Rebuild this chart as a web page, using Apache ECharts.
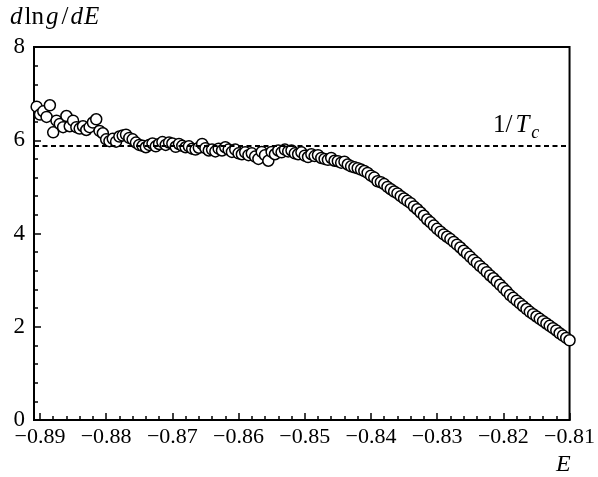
<!DOCTYPE html>
<html><head><meta charset="utf-8">
<script src="https://cdn.jsdelivr.net/npm/echarts@6/dist/echarts.min.js"></script>
<style>html,body{margin:0;padding:0;background:#fff}#c{width:598px;height:477px}</style>
</head><body><div id="c"></div>
<script>
const E = [-0.8905,-0.8900,-0.8895,-0.8890,-0.8885,-0.8880,-0.8875,-0.8870,-0.8865,-0.8860,
-0.8855,-0.8850,-0.8845,-0.8840,-0.8835,-0.8830,-0.8825,-0.8820,-0.8815,-0.8810,
-0.8805,-0.8800,-0.8795,-0.8790,-0.8785,-0.8780,-0.8775,-0.8770,-0.8765,-0.8760,
-0.8755,-0.8750,-0.8745,-0.8740,-0.8735,-0.8730,-0.8725,-0.8720,-0.8715,-0.8710,
-0.8705,-0.8700,-0.8695,-0.8690,-0.8685,-0.8680,-0.8675,-0.8670,-0.8665,-0.8660,
-0.8655,-0.8650,-0.8645,-0.8640,-0.8635,-0.8630,-0.8625,-0.8620,-0.8615,-0.8610,
-0.8605,-0.8600,-0.8595,-0.8590,-0.8585,-0.8580,-0.8575,-0.8570,-0.8565,-0.8560,
-0.8555,-0.8550,-0.8545,-0.8540,-0.8535,-0.8530,-0.8525,-0.8520,-0.8515,-0.8510,
-0.8505,-0.8500,-0.8495,-0.8490,-0.8485,-0.8480,-0.8475,-0.8470,-0.8465,-0.8460,
-0.8455,-0.8450,-0.8445,-0.8440,-0.8435,-0.8430,-0.8425,-0.8420,-0.8415,-0.8410,
-0.8405,-0.8400,-0.8395,-0.8390,-0.8385,-0.8380,-0.8375,-0.8370,-0.8365,-0.8360,
-0.8355,-0.8350,-0.8345,-0.8340,-0.8335,-0.8330,-0.8325,-0.8320,-0.8315,-0.8310,
-0.8305,-0.8300,-0.8295,-0.8290,-0.8285,-0.8280,-0.8275,-0.8270,-0.8265,-0.8260,
-0.8255,-0.8250,-0.8245,-0.8240,-0.8235,-0.8230,-0.8225,-0.8220,-0.8215,-0.8210,
-0.8205,-0.8200,-0.8195,-0.8190,-0.8185,-0.8180,-0.8175,-0.8170,-0.8165,-0.8160,
-0.8155,-0.8150,-0.8145,-0.8140,-0.8135,-0.8130,-0.8125,-0.8120,-0.8115,-0.8110,
-0.8105,-0.8100];
const dlngdE = [6.72,6.55,6.62,6.50,6.75,6.17,6.42,6.35,6.28,6.52,
6.30,6.42,6.28,6.25,6.30,6.22,6.28,6.38,6.45,6.20,
6.15,6.02,5.98,6.03,5.97,6.08,6.10,6.12,6.05,6.02,
5.95,5.90,5.88,5.85,5.90,5.93,5.87,5.92,5.96,5.90,
5.95,5.93,5.86,5.92,5.88,5.85,5.87,5.82,5.80,5.84,
5.92,5.83,5.78,5.80,5.76,5.82,5.78,5.85,5.80,5.75,
5.80,5.72,5.70,5.74,5.68,5.72,5.65,5.60,5.75,5.68,
5.56,5.75,5.70,5.78,5.74,5.80,5.76,5.78,5.72,5.70,
5.74,5.67,5.64,5.70,5.66,5.68,5.62,5.60,5.58,5.62,
5.56,5.55,5.52,5.54,5.48,5.44,5.42,5.40,5.37,5.34,
5.30,5.24,5.20,5.12,5.10,5.06,5.00,4.95,4.90,4.86,
4.80,4.75,4.70,4.65,4.58,4.52,4.45,4.38,4.30,4.24,
4.17,4.10,4.04,3.98,3.93,3.88,3.82,3.76,3.70,3.63,
3.57,3.50,3.43,3.37,3.30,3.24,3.17,3.10,3.04,2.97,
2.90,2.83,2.76,2.68,2.62,2.56,2.50,2.44,2.38,2.32,
2.27,2.22,2.17,2.12,2.07,2.02,1.97,1.92,1.86,1.81,
1.76,1.71];
const invTc = 5.89;
const xMajorTicks = [-0.89,-0.88,-0.87,-0.86,-0.85,-0.84,-0.83,-0.82,-0.81];
const xMinorTicks = [-0.888,-0.886,-0.884,-0.882,-0.878,-0.876,-0.874,-0.872,-0.868,-0.866,-0.864,-0.862,
-0.858,-0.856,-0.854,-0.852,-0.848,-0.846,-0.844,-0.842,-0.838,-0.836,-0.834,-0.832,
-0.828,-0.826,-0.824,-0.822,-0.818,-0.816,-0.814,-0.812];
const xMin = -0.8909, xMax = -0.81;

const serif = 'Liberation Serif';
const pts = E.map((e,i)=>[e, dlngdE[i]]);
const chart = echarts.init(document.getElementById('c'), null, {renderer:'canvas'});
const it = (s, pad) => ({fontFamily:serif,fontStyle:'italic',fontSize:s,fill:'#000',padding:pad||[0,0,0,0]});
const rm = (s, pad) => ({fontFamily:serif,fontSize:s,fill:'#000',padding:pad||[0,0,0,0]});
chart.setOption({
  animation:false,
  backgroundColor:'#fff',
  grid:{left:34,right:24.5,top:47,bottom:57,show:true,borderColor:'#000',borderWidth:2,containLabel:false},
  xAxis:[{
    type:'value',min:xMin,max:xMax,
    axisLine:{onZero:false,lineStyle:{color:'#000',width:2}},
    axisTick:{inside:true,length:7,lineStyle:{color:'#000',width:1.5},customValues:xMajorTicks},
    axisLabel:{customValues:xMajorTicks,color:'#000',fontFamily:serif,fontSize:22,margin:6,
      formatter:v=>(Math.round(v*100)/100).toFixed(2).replace('-','\u2212')},
    splitLine:{show:false}
  },{
    type:'value',min:xMin,max:xMax,position:'bottom',
    axisLine:{show:false},
    axisTick:{inside:true,length:4,lineStyle:{color:'#000',width:1.5},customValues:xMinorTicks},
    axisLabel:{show:false},splitLine:{show:false}
  }],
  yAxis:{
    type:'value',min:0,max:8,interval:2,
    axisLine:{onZero:false,lineStyle:{color:'#000',width:2}},
    axisTick:{inside:true,length:7,lineStyle:{color:'#000',width:1.5}},
    minorTick:{show:true,splitNumber:5,length:4,lineStyle:{color:'#000',width:1.5}},
    axisLabel:{color:'#000',fontFamily:serif,fontSize:23,margin:9},
    splitLine:{show:false}
  },
  series:[{
    type:'scatter',xAxisIndex:0,data:pts,symbol:'circle',symbolSize:11,
    itemStyle:{color:'#fff',borderColor:'#000',borderWidth:1.5,opacity:1},
    markLine:{silent:true,symbol:'none',label:{show:false},
      lineStyle:{color:'#000',type:[5,3.5],width:1.8},
      data:[{yAxis:invTc}]},
    z:3
  }],
  graphic:[
    {type:'text',left:10,top:5,style:{
      text:'{a|d}{b|ln}{c|g}{d|/}{e|d}{f|E}',
      rich:{a:it(25,[0,2,0,0]),b:rm(25,[0,2,0,0]),c:it(25,[0,3,0,0]),d:rm(25,[0,2,0,0]),e:it(25,[0,1,0,0]),f:it(25)}}},
    {type:'text',left:556,top:453,style:{text:'E',fontFamily:serif,fontStyle:'italic',fontSize:24,fill:'#000'}},
    {type:'text',left:493,top:113,style:{
      text:'{r|1/}{i|T}{s|c}',
      rich:{i:it(25,[0,1,0,3]),r:rm(25,[0,0,0,0]),
            s:{fontFamily:serif,fontStyle:'italic',fontSize:18,fill:'#000',verticalAlign:'bottom',padding:[15,0,0,1]}}}}
  ]
});
</script></body></html>
